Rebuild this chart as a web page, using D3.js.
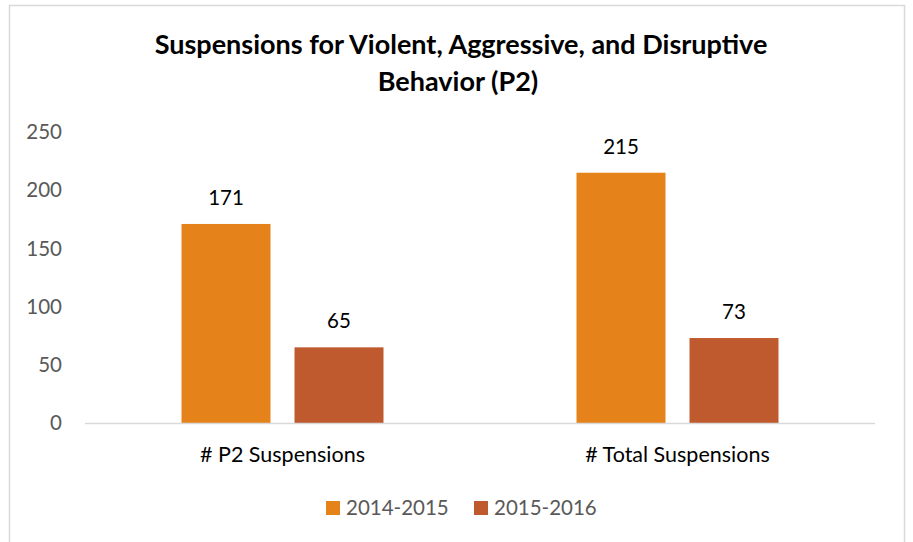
<!DOCTYPE html>
<html>
<head>
<meta charset="utf-8">
<script src="https://cdn.jsdelivr.net/npm/d3@7"></script>
<style>
  body { margin: 0; background: #fff; }
  text { font-family: Lato, "Open Sans", sans-serif; }
</style>
</head>
<body>
<div id="chart"></div>
<script>
var categories = ["# P2 Suspensions", "# Total Suspensions"];
var seriesNames = ["2014-2015", "2015-2016"];
var values2014 = [171, 215];
var values2015 = [65, 73];
var yTicks = [0, 50, 100, 150, 200, 250];
var colors = ["#E5821A", "#BF5A2E"];

var W = 913, H = 542;
var svg = d3.select("#chart").append("svg")
  .attr("width", W).attr("height", H);

// chart border
svg.append("rect")
  .attr("x", 9.5).attr("y", 5.5)
  .attr("width", 895).attr("height", H + 10)
  .attr("fill", "#fff").attr("stroke", "#d9d9d9").attr("stroke-width", 1.5);

svg.selectAll(".title")
  .data(["Suspensions for Violent, Aggressive, and Disruptive", "Behavior (P2)"])
  .enter().append("text")
    .attr("x", function (d, i) { return i ? 458 : 461; })
    .attr("y", function (d, i) { return 54 + i * 37; })
    .attr("text-anchor", "middle")
    .style("font-size", "27px")
    .style("font-weight", "bold")
    .style("fill", "#000")
    .text(function (d) { return d; });

var x0 = d3.scaleBand().domain(categories).range([85, 875]);
var x1 = d3.scaleBand().domain(seriesNames).range([0, x0.bandwidth()])
  .paddingInner(24 / 113).paddingOuter(96.5 / 113);
var y = d3.scaleLinear().domain([0, 250]).range([423, 132]);

// y tick labels
svg.selectAll(".ytick")
  .data(yTicks)
  .enter().append("text")
    .attr("x", 62)
    .attr("y", function (d) { return y(d); })
    .attr("dy", "0.35em")
    .attr("text-anchor", "end")
    .style("font-size", "20.5px")
    .style("fill", "#595959")
    .text(function (d) { return d; });

var data = [];
categories.forEach(function (c, i) {
  data.push({ cat: c, series: seriesNames[0], value: values2014[i], color: colors[0] });
  data.push({ cat: c, series: seriesNames[1], value: values2015[i], color: colors[1] });
});

svg.selectAll(".bar")
  .data(data)
  .enter().append("rect")
    .attr("x", function (d) { return x0(d.cat) + x1(d.series); })
    .attr("y", function (d) { return y(d.value); })
    .attr("width", x1.bandwidth())
    .attr("height", function (d) { return y(0) - y(d.value); })
    .attr("fill", function (d) { return d.color; });

svg.selectAll(".label")
  .data(data)
  .enter().append("text")
    .attr("x", function (d) { return x0(d.cat) + x1(d.series) + x1.bandwidth() / 2; })
    .attr("y", function (d) { return y(d.value) - 19; })
    .attr("text-anchor", "middle")
    .style("font-size", "20.5px")
    .style("fill", "#000")
    .text(function (d) { return d.value; });

// baseline
svg.append("line")
  .attr("x1", 85).attr("x2", 875)
  .attr("y1", y(0) + 0.5).attr("y2", y(0) + 0.5)
  .attr("stroke", "#d9d9d9").attr("stroke-width", 1.5);

svg.selectAll(".cat")
  .data(categories)
  .enter().append("text")
    .attr("x", function (d) { return x0(d) + x0.bandwidth() / 2; })
    .attr("y", 462)
    .attr("text-anchor", "middle")
    .style("font-size", "21.5px")
    .style("fill", "#000")
    .text(function (d) { return d; });

// legend
var legend = svg.selectAll(".legend")
  .data(seriesNames)
  .enter().append("g")
    .attr("transform", function (d, i) { return "translate(" + (326 + i * 148) + ",501)"; });
legend.append("rect")
  .attr("width", 14).attr("height", 14)
  .attr("fill", function (d, i) { return colors[i]; });
legend.append("text")
  .attr("x", 20).attr("y", 14)
  .style("font-size", "20.5px")
  .style("fill", "#595959")
  .text(function (d) { return d; });
</script>
</body>
</html>
